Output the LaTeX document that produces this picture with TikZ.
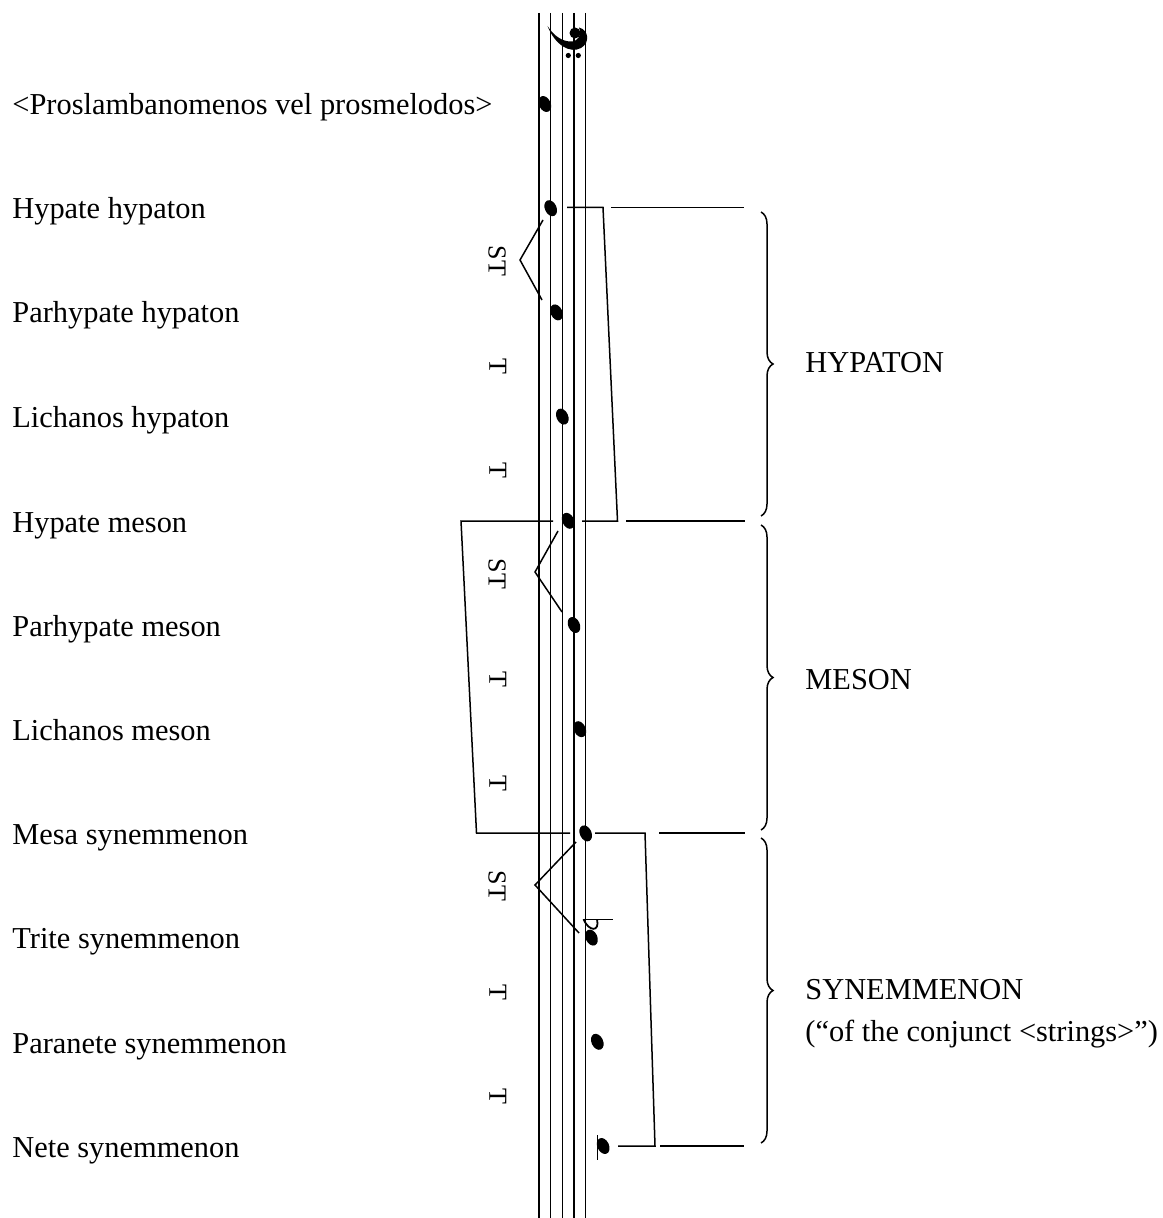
\documentclass[tikz,border=0pt]{standalone}
\usepackage{fontspec}
\setmainfont{Liberation Serif}
\usetikzlibrary{shapes.geometric,decorations.pathreplacing}
\begin{document}
\begin{tikzpicture}[x=0.5pt,y=-0.5pt,
  lbl/.style={anchor=base west, inner sep=0pt, font=\fontsize{15.2}{18}\selectfont},
  interval/.style={font=\fontsize{13}{15}\selectfont, inner sep=0pt, rotate=-90},
  notehead/.style={ellipse, fill, draw=none, minimum width=5.8pt, minimum height=8.4pt, inner sep=0pt, rotate=25},
  staffline/.style={line width=0.75pt},
  brk/.style={line width=0.75pt},
  brc/.style={line width=0.75pt, decorate, decoration={brace, amplitude=6pt}}]
\fill[white] (0,0) rectangle (1162,1218);
\useasboundingbox (0,0) rectangle (1162,1218);
% staff
\foreach \x in {539,550.7,562.3,574,585.7} \draw[staffline] (\x,13) -- (\x,1218);
% bass clef (rotated)
\fill (575,33) circle[radius=5.5];
\fill (547.5,26) .. controls (555,45) and (570,54) .. (581,48)
  .. controls (590,43) and (589,30) .. (579,27.5)
  .. controls (582,35) and (578,41.5) .. (571,41.5)
  .. controls (562,41.5) and (554,36) .. (547.5,26) -- cycle;
\fill (568.3,55.5) circle[radius=2.6];
\fill (578.3,55.5) circle[radius=2.6];
% notes
\foreach \i/\x in {0/544.8,1/550.7,2/556.5,3/562.3,4/568.2,5/574,6/579.8,7/585.7,8/591.5,9/597.3,10/603.2}
  \node[notehead] (n\i) at (\x,{104+104.2*\i}) {};
% flat on trite synemmenon
\draw[line width=0.7pt] (583,919.3) -- (613,919.3);
\draw[line width=0.9pt] (597,919.3) .. controls (600,932) and (589,932) .. (583.5,919.3);
% ledger line for nete
\draw[line width=0.7pt] (597.3,1135) -- (597.3,1160);
% left labels
\node[lbl] (L0) at (12,115) {<Proslambanomenos vel prosmelodos>};
\node[lbl] (L1) at (12,219) {Hypate hypaton};
\node[lbl] (L2) at (12,323) {Parhypate hypaton};
\node[lbl] (L3) at (12,428) {Lichanos hypaton};
\node[lbl] (L4) at (12,532) {Hypate meson};
\node[lbl] (L5) at (12,636) {Parhypate meson};
\node[lbl] (L6) at (12,740) {Lichanos meson};
\node[lbl] (L7) at (12,844) {Mesa synemmenon};
\node[lbl] (L8) at (12,948) {Trite synemmenon};
\node[lbl] (L9) at (12,1053) {Paranete synemmenon};
\node[lbl] (L10) at (12,1157) {Nete synemmenon};
% intervals
\node[interval] (i1) at (497,261) {ST};
\node[interval] (i2) at (498,366) {T};
\node[interval] (i3) at (498,470) {T};
\node[interval] (i4) at (497,574) {ST};
\node[interval] (i5) at (498,679) {T};
\node[interval] (i6) at (498,783) {T};
\node[interval] (i7) at (497,886) {ST};
\node[interval] (i8) at (498,992) {T};
\node[interval] (i9) at (498,1096) {T};
% semitone angle marks
\draw[brk] (543,220) -- (520,260) -- (542,300);
\draw[brk] (558,531) -- (535,572) -- (562,612);
\draw[brk] (576,842) -- (535,885) -- (579,933);
% tetrachord brackets
\draw[brk] (567,207.5) -- (603,207.5) -- (617.5,521) -- (582,521);
\draw[brk] (553,521) -- (461,521) -- (476.5,833) -- (570,833);
\draw[brk] (595,833) -- (645,833) -- (655,1146) -- (618,1146);
% extension lines
\draw[brk] (611,207.5) -- (744,207.5);
\draw[brk] (626,521) -- (745,521);
\draw[brk] (659,833) -- (745,833);
\draw[brk] (660,1146) -- (744,1146);
% braces
\draw[brc] (761,212) -- (761,516);
\draw[brc] (761,525) -- (761,830);
\draw[brc] (761,838) -- (761,1143);
% right labels
\node[lbl] (R1) at (805,373) {HYPATON};
\node[lbl] (R2) at (805,689) {MESON};
\node[lbl] (R3) at (805,999) {SYNEMMENON};
\node[lbl] (R4) at (805,1041) {(“of the conjunct <strings>”)};
\end{tikzpicture}
\end{document}
